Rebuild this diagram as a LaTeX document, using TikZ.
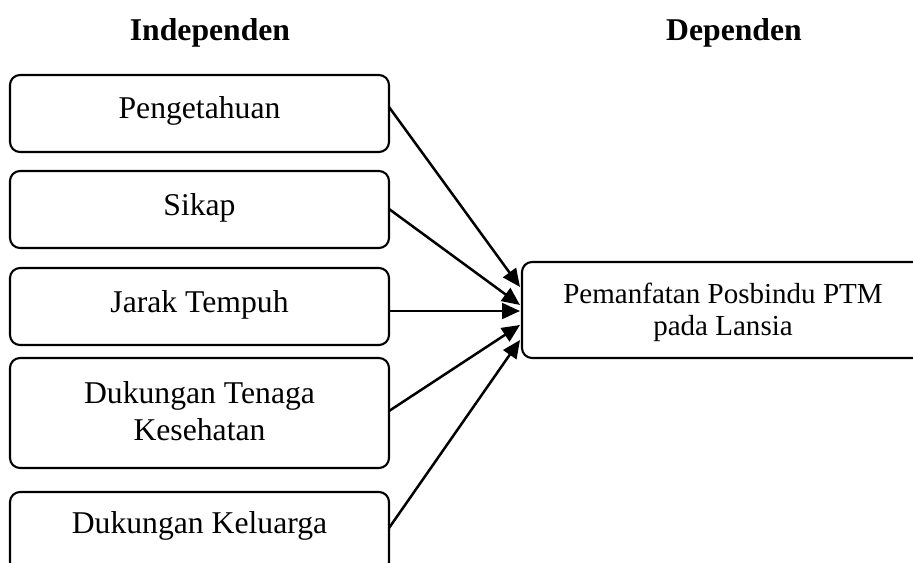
\documentclass[tikz,border=0pt]{standalone}
\usepackage{fontspec}
\setmainfont{Liberation Serif}
\usetikzlibrary{arrows.meta}
\begin{document}
\begin{tikzpicture}[x=0.3788pt,y=-0.3788pt,
  box/.style={draw,line width=0.8pt,rounded corners=3.8pt,inner sep=0pt},
  lbl/.style={anchor=base,inner sep=0pt,font=\fontsize{12}{14}\selectfont},
  rlbl/.style={anchor=base,inner sep=0pt,font=\fontsize{11}{13}\selectfont},
  hdr/.style={anchor=base,inner sep=0pt,font=\fontsize{12}{14}\selectfont\bfseries},
  arr/.style={line width=0.95pt,-{Triangle[length=6.8pt,width=6pt]}}]
\useasboundingbox (0,0) rectangle (913,562);
\clip (0,0) rectangle (913,562);
% headers
\node[hdr] (hi) at (210,40) {Independen};
\node[hdr] (hd) at (734,40) {Dependen};
% left boxes
\node[box,minimum width=379*0.3788pt,minimum height=77*0.3788pt] (b1) at (199.5,113.5) {};
\node[box,minimum width=379*0.3788pt,minimum height=77*0.3788pt] (b2) at (199.5,209.5) {};
\node[box,minimum width=379*0.3788pt,minimum height=77*0.3788pt] (b3) at (199.5,306.5) {};
\node[box,minimum width=379*0.3788pt,minimum height=110*0.3788pt] (b4) at (199.5,413) {};
\node[box,minimum width=379*0.3788pt,minimum height=80*0.3788pt] (b5) at (199.5,532) {};
% right box
\node[box,minimum width=413*0.3788pt,minimum height=96*0.3788pt] (t) at (728.5,310) {};
% texts
\node[lbl] (l1) at (199.5,118) {Pengetahuan};
\node[lbl] (l2) at (199.5,215) {Sikap};
\node[lbl] (l3) at (199.5,312) {Jarak Tempuh};
\node[lbl] (l4a) at (199.5,403) {Dukungan Tenaga};
\node[lbl] (l4b) at (199.5,440) {Kesehatan};
\node[lbl] (l5) at (199.5,533) {Dukungan Keluarga};
\node[rlbl] (r1) at (723,303) {Pemanfatan Posbindu PTM};
\node[rlbl] (r2) at (723,335) {pada Lansia};
% connector ends
\coordinate (s1) at (389,107);
\coordinate (s2) at (389,209);
\coordinate (s3) at (389,311);
\coordinate (s4) at (389,411);
\coordinate (s5) at (389,528);
\coordinate (e1) at (520,287);
\coordinate (e2) at (520,305);
\coordinate (e3) at (520,311);
\coordinate (e4) at (520,325);
\coordinate (e5) at (520,340);
\draw[arr] (s1) -- (e1);
\draw[arr] (s2) -- (e2);
\draw[arr] (s3) -- (e3);
\draw[arr] (s4) -- (e4);
\draw[arr] (s5) -- (e5);
\end{tikzpicture}
\end{document}
